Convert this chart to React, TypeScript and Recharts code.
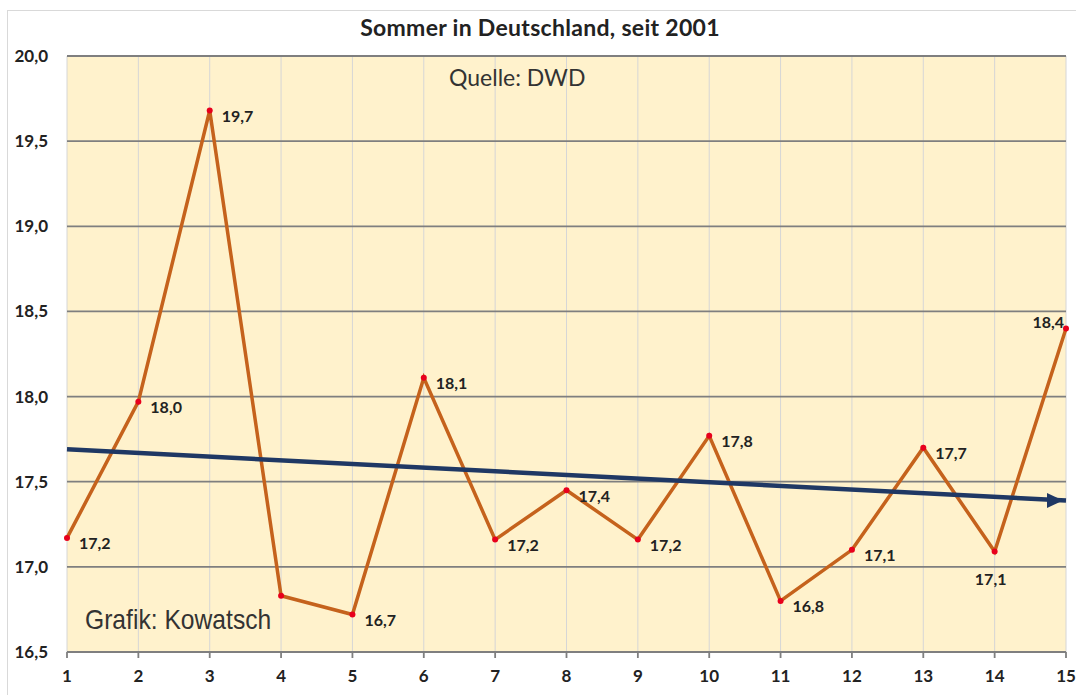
import React from 'react';
import { LineChart, Line, XAxis, YAxis, CartesianGrid, LabelList } from 'recharts';

// Sommertemperaturen (°C), Jahre ab 2001 durchnummeriert
const years = [1, 2, 3, 4, 5, 6, 7, 8, 9, 10, 11, 12, 13, 14, 15];
const temps = [17.17, 17.97, 19.68, 16.83, 16.72, 18.11, 17.16, 17.45, 17.16, 17.77, 16.8, 17.1, 17.7, 17.09, 18.4];
const trendX = [1, 15];
const trendY = [17.69, 17.39];
const yTicks = [16.5, 17, 17.5, 18, 18.5, 19, 19.5, 20];

const data = years.map((x, i) => ({ x, t: temps[i] }));
const trendData = trendX.map((x, i) => ({ x, trend: trendY[i] }));

const fmt = (v: number) => v.toFixed(1).replace('.', ',');
const FONT = 'Lato, "Open Sans", sans-serif';

const PointLabel = (props: any) => {
  const { x, y, value, index } = props;
  if (index === 3) return null; // im Original ohne Beschriftung
  let lx = x + 12;
  let ly = y + 5;
  let anchor: 'start' | 'middle' | 'end' = 'start';
  if (index === 13) {
    lx = x - 4;
    ly = y + 27;
    anchor = 'middle';
  } else if (index === 14) {
    lx = x - 2;
    ly = y - 7;
    anchor = 'end';
  }
  return (
    <text x={lx} y={ly} textAnchor={anchor} dominantBaseline="central" fontFamily={FONT} fontWeight={700} fontSize={16} fill="#222">
      {fmt(value)}
    </text>
  );
};

const ArrowDot = (props: any) => {
  const { cx, cy, index } = props;
  if (index !== trendData.length - 1) return <g key={`a-${index}`} />;
  const tip = cx - 3;
  return (
    <polygon key={`a-${index}`} points={`${tip},${cy} ${tip - 16},${cy - 7.5} ${tip - 16},${cy + 7.5}`} fill="#1F3864" />
  );
};

const App: React.FC = () => {
  return (
    <div style={{ position: 'absolute', left: 0, top: 0, width: 1076, height: 695, background: '#fff', overflow: 'hidden' }}>
      <div style={{ position: 'absolute', left: 7, top: 10, width: 1100, height: 720, borderLeft: '1px solid #d9d9d9', borderTop: '1px solid #d9d9d9' }} />
      <div style={{ position: 'absolute', left: 0, top: 13, width: 1080, textAlign: 'center', fontFamily: FONT, fontWeight: 700, fontSize: 23, letterSpacing: 0.3, color: '#222' }}>
        Sommer in Deutschland, seit 2001
      </div>
      <LineChart width={1076} height={695} data={data} margin={{ top: 56, right: 10, bottom: 13, left: 7 }} style={{ position: 'absolute', left: 0, top: 0 }}>
        <CartesianGrid fill="#FFF2CC" horizontal={false} stroke="#d6d6d6" strokeWidth={1} />
        <CartesianGrid vertical={false} stroke="#7f7f7f" strokeWidth={1.8} />
        <XAxis
          type="number"
          dataKey="x"
          domain={[1, 15]}
          ticks={years}
          stroke="#7f7f7f"
          strokeWidth={1.8}
          tickSize={6}
          tickMargin={12}
          height={30}
          tick={{ fontFamily: FONT, fontWeight: 700, fontSize: 17, fill: '#222' }}
        />
        <YAxis
          type="number"
          domain={[16.5, 20]}
          ticks={yTicks}
          width={60}
          axisLine={false}
          tickLine={false}
          tickSize={0}
          tickMargin={19}
          tickFormatter={fmt}
          tick={{ fontFamily: FONT, fontWeight: 700, fontSize: 17, fill: '#222' }}
        />
        <Line
          dataKey="t"
          stroke="#C5621C"
          strokeWidth={3.5}
          dot={{ r: 3, fill: '#E8001C', stroke: 'none' }}
          activeDot={false}
          isAnimationActive={false}
        >
          <LabelList dataKey="t" content={PointLabel} />
        </Line>
        <Line
          data={trendData}
          dataKey="trend"
          stroke="#1F3864"
          strokeWidth={4.5}
          dot={ArrowDot}
          activeDot={false}
          isAnimationActive={false}
        />
      </LineChart>
      <div style={{ position: 'absolute', left: 449, top: 63, fontFamily: FONT, fontSize: 23, color: '#333' }}>Quelle: DWD</div>
      <div style={{ position: 'absolute', left: 85, top: 604, fontFamily: '"Liberation Sans", sans-serif', fontSize: 28, color: '#333', transform: 'scaleX(0.88)', transformOrigin: 'left top', whiteSpace: 'nowrap' }}>
        Grafik: Kowatsch
      </div>
    </div>
  );
};

export default App;
